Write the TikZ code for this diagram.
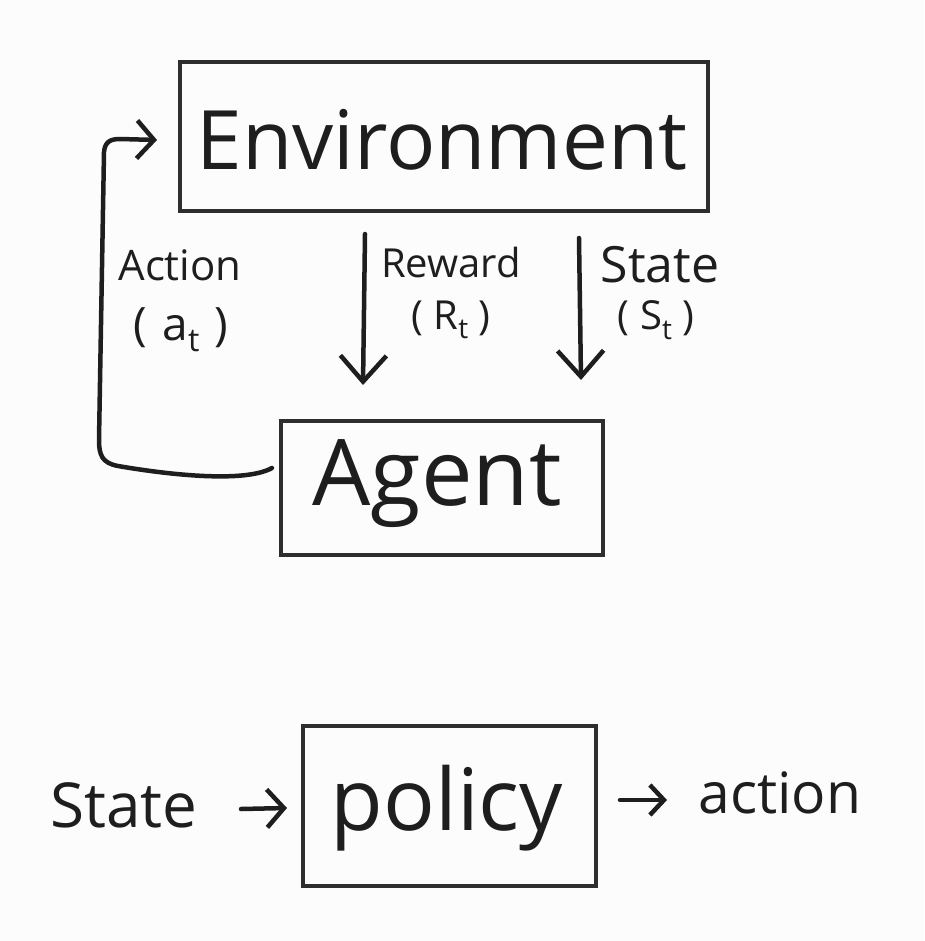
\documentclass[tikz,border=0pt]{standalone}
\usepackage{fontspec}
\setmainfont{Open Sans}
\usetikzlibrary{arrows.meta}
\definecolor{bg}{HTML}{FCFCFC}
\definecolor{ink}{HTML}{1E1E1E}
\definecolor{boxc}{HTML}{2E2E2E}
\newcommand\lowsub[1]{\raisebox{-0.45ex}{\scalebox{0.7}{#1}}}
\tikzset{
  frame/.style={draw=boxc, line width=4pt, inner sep=0pt, fill=none},
  hand/.style={draw=ink, line width=4.5pt, line cap=round, line join=round},
  barb/.style={-{Straight Barb[length=26pt,width=46pt,line width=4.5pt]}},
  smallbarb/.style={-{Straight Barb[length=17pt,width=38pt,line width=4.5pt]}},
  lbl/.style={text=ink, inner sep=0pt, align=center},
}
\begin{document}
\begin{tikzpicture}[x=1pt,y=-1pt]
\fill[bg] (0,0) rectangle (924,941);
\useasboundingbox (0,0) rectangle (924,941);

% boxes
\node[frame, minimum width=528pt, minimum height=149pt] (env) at (444,136.5) {};
\node[lbl, font=\fontsize{82}{82}\selectfont] (envt) at (442,140) {Environment};

\node[frame, minimum width=322pt, minimum height=134pt] (agent) at (442,488) {};
\node[lbl, font=\fontsize{92}{92}\selectfont] (agentt) at (437,484) {Agent};

\node[frame, minimum width=293pt, minimum height=160pt] (pol) at (449.5,806) {};
\node[lbl, font=\fontsize{86}{86}\selectfont] (polt) at (447,808) {policy};

% action loop
\coordinate (aS) at (272,468);
\coordinate (aE) at (157,140);
\draw[hand, smallbarb] (aS) .. controls (245,483) and (170,475) .. (118,466)
  .. controls (102,463) and (99,455) .. (99,440) -- (104,152)
  .. controls (105,142) and (110,139) .. (120,139) -- (aE);
\node[lbl, font=\fontsize{42}{42}\selectfont] (actl) at (180,265) {Action};
\node[lbl, font=\fontsize{46}{46}\selectfont] (actv) at (181,330) {(\,\,a\lowsub{t}\,\,)};

% reward
\coordinate (rS) at (365,234);
\coordinate (rE) at (363,385);
\draw[hand, barb] (rS) -- (rE);
\node[lbl, font=\fontsize{40}{40}\selectfont] (rewl) at (451,262) {Reward};
\node[lbl, font=\fontsize{40}{40}\selectfont] (rewv) at (451,320) {( R\lowsub{t} )};

% state
\coordinate (sS) at (579,238);
\coordinate (sE) at (581,380);
\draw[hand, barb] (sS) -- (sE);
\node[lbl, font=\fontsize{50}{50}\selectfont] (stl) at (660,265) {State};
\node[lbl, font=\fontsize{40}{40}\selectfont] (stv) at (656,320) {( S\lowsub{t} )};

% bottom
\node[lbl, font=\fontsize{62}{62}\selectfont] (bst) at (124,805) {State};
\node[lbl, font=\fontsize{57}{57}\selectfont] (bact) at (780,793) {action};
\coordinate (b1) at (241,809);
\coordinate (b2) at (287,808);
\draw[hand, smallbarb] (b1) -- (b2);
\coordinate (b3) at (620,800);
\coordinate (b4) at (667,800);
\draw[hand, -{Straight Barb[length=14pt,width=30pt,line width=4.5pt]}] (b3) -- (b4);
\end{tikzpicture}
\end{document}
